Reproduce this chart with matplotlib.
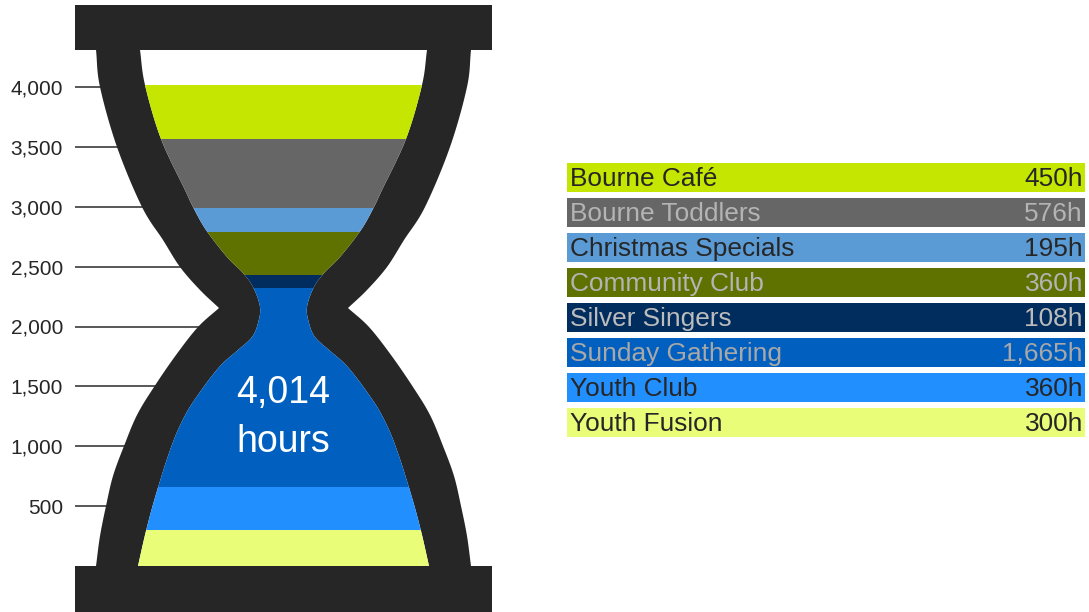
import numpy as np
import matplotlib
matplotlib.use("Agg")
import matplotlib.pyplot as plt
from matplotlib.patches import Polygon, Rectangle
from matplotlib.transforms import Affine2D

# ---------------- data ----------------
categories = ["Bourne Café", "Bourne Toddlers", "Christmas Specials", "Community Club",
              "Silver Singers", "Sunday Gathering", "Youth Club", "Youth Fusion"]
hours = [450, 576, 195, 360, 108, 1665, 360, 300]
colors = ["#c4e600", "#666666", "#5b9bd5", "#5f7200",
          "#002d5e", "#005fbf", "#228fff", "#eafd78"]
text_colors = ["#262626", "#b4b4b4", "#262626", "#b4b4b4",
               "#bcbcbc", "#a8a8a8", "#262626", "#262626"]
y_ticks = [500, 1000, 1500, 2000, 2500, 3000, 3500, 4000]
total_label = "hours"

plt.rcParams["font.family"] = ["Liberation Sans", "DejaVu Sans"]

W, H = 1089, 612
fig = plt.figure(figsize=(W / 100, H / 100), dpi=100)
# pixel (top-left origin) -> figure
T = Affine2D().scale(1 / W, -1 / H).translate(0, 1) + fig.transFigure

# y scale: 0 h at px 566, 4000 h at px 87
Y0PX = 566.0
KPX = 479.0 / 4000.0
X0 = 75
ax = fig.add_axes([X0 / W, 0, 1 - X0 / W, 1])
ax.set_xlim(X0, W)
ax.set_ylim((Y0PX - H) / KPX, Y0PX / KPX)
for s in ax.spines.values():
    s.set_visible(False)
ax.set_xticks([])
ax.set_yticks(y_ticks)
ax.set_yticklabels([f"{t:,}" for t in y_ticks], fontsize=15, color="#262626")
ax.tick_params(axis="y", length=0, pad=8.6)
ax.patch.set_alpha(0)

CX = 283.5
ax.hlines(y_ticks, X0, CX, color="#4a4a4a", lw=1.3, zorder=1)


def smooth(pts, n=16):
    pts = np.asarray(pts, float)
    P = np.vstack([2 * pts[0] - pts[1], pts, 2 * pts[-1] - pts[-2]])
    out = []
    t = np.linspace(0, 1, n, endpoint=False)[:, None]
    for i in range(1, len(P) - 2):
        p0, p1, p2, p3 = P[i - 1], P[i], P[i + 1], P[i + 2]
        seg = 0.5 * ((2 * p1) + (-p0 + p2) * t + (2 * p0 - 5 * p1 + 4 * p2 - p3) * t ** 2
                     + (-p0 + 3 * p1 - 3 * p2 + p3) * t ** 3)
        out.append(seg)
    out.append(pts[-1:])
    return np.vstack(out)


def mirror(left):
    right = left[::-1].copy()
    right[:, 0] = 2 * CX - right[:, 0]
    return np.vstack([left, right])


# outer shell (x, y) in px
upper_outer = [(96, 50), (100, 87), (117, 147), (142, 207), (163, 240), (180, 267),
               (200, 290), (219, 308)]
lower_outer = [(219, 308), (198, 327), (176, 355), (154, 387), (137, 415),
               (124, 446), (113, 476), (106, 506), (100, 536), (96, 566)]
outer_left = np.vstack([smooth(upper_outer), smooth(lower_outer)[1:]])
outer = mirror(outer_left)

inner_pts = [(140, 50), (145, 85), (161, 139), (185, 190), (193, 207), (206, 230),
             (227, 257), (242, 272), (253, 287), (260, 307), (258, 323), (252, 337),
             (238, 350), (223, 363), (211, 377), (200, 392), (188, 410), (177, 432),
             (168, 456), (160, 481), (152, 508), (145, 535), (138, 566)]
inner = mirror(smooth(inner_pts))

DARK = "#262626"
outer_patch = Polygon(outer, closed=True, transform=T, facecolor=DARK, edgecolor="none",
                      zorder=2, clip_on=False)
ax.add_patch(outer_patch)
cavity = Polygon(inner, closed=True, transform=T, facecolor="white", edgecolor="none",
                 zorder=3, clip_on=False)
ax.add_patch(cavity)

# stacked bands (bottom = last category)
order = list(range(len(categories)))[::-1]
bottom = 0
for i in order:
    b = ax.bar(CX, hours[i], bottom=bottom, width=420, color=colors[i], zorder=4,
               linewidth=0)
    for r in b:
        r.set_clip_path(cavity)
    bottom += hours[i]

# caps
for y0, hh in [(5, 45), (566, 46)]:
    ax.add_patch(Rectangle((75, y0), 417, hh, transform=T, facecolor=DARK,
                           edgecolor="none", zorder=5, clip_on=False))

total = sum(hours)
ax.text(CX, 403, f"{total:,}", transform=T, ha="center", va="baseline",
        fontsize=27, color="white", zorder=6)
ax.text(CX, 452, total_label, transform=T, ha="center", va="baseline",
        fontsize=27, color="white", zorder=6)

# legend rows
for i, (cat, v) in enumerate(zip(categories, hours)):
    top = 163.3 + 35 * i
    ax.add_patch(Rectangle((567, top), 518, 28.4, transform=T, facecolor=colors[i],
                           edgecolor="none", zorder=5, clip_on=False))
    ax.text(570, top + 22.4, cat, transform=T, ha="left", va="baseline",
            fontsize=18.9, color=text_colors[i], zorder=6)
    ax.text(1083, top + 22.4, f"{v:,}h", transform=T, ha="right", va="baseline",
            fontsize=18.9, color=text_colors[i], zorder=6)

fig.savefig("out.png", dpi=100)
